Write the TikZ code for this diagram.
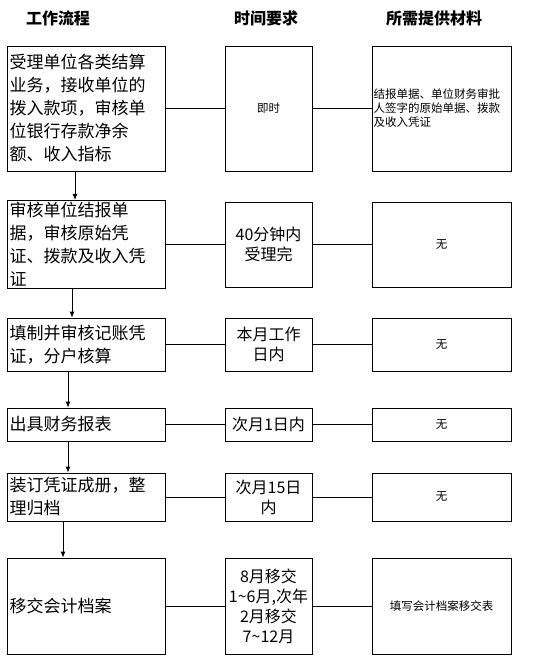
\documentclass[tikz,border=0pt]{standalone}
\usepackage{fontspec}
\newfontfamily\cjk{Noto Sans CJK SC}
\usetikzlibrary{arrows.meta}

\begin{document}
\begin{tikzpicture}[x=1pt,y=-1pt]
    % Define the styles for the three columns
    \tikzstyle{headtext}=[font=\cjk\bfseries\fontsize{16}{18}\selectfont];
    \tikzstyle{stepbox}=[draw, line width=0.8pt, minimum width=158pt, text width=153pt, inner sep=2pt, align=left, font=\cjk\fontsize{17}{23}\selectfont];
    \tikzstyle{timebox}=[draw, line width=0.8pt, minimum width=87pt, text width=84pt, inner sep=1.5pt, align=center, font=\cjk\fontsize{16}{20}\selectfont];
    \tikzstyle{needbox}=[draw, line width=0.8pt, minimum width=139pt, text width=136pt, inner sep=1.5pt, align=center, font=\cjk\fontsize{11.5}{14}\selectfont];
    \tikzstyle{link}=[line width=0.8pt];
    \tikzstyle{flow}=[line width=0.8pt, -{Latex[length=6pt,width=5pt]}];

    \useasboundingbox (0,0) rectangle (550,656);

    % Column heads
    \node[headtext] (h1) at (58,18) {工作流程};
    \node[headtext] (h2) at (266,18) {时间要求};
    \node[headtext] (h3) at (434,18) {所需提供材料};

    % Work flow (left column)
    \node[stepbox, minimum height=125pt] (s1) at (86,108.5) {受理单位各类结算\\业务，接收单位的\\拨入款项，审核单\\位银行存款净余\\额、收入指标};
    \node[stepbox, minimum height=85pt] (s2) at (86,244.5) {审核单位结报单\\据，审核原始凭\\证、拨款及收入凭\\证};
    \node[stepbox, minimum height=53pt] (s3) at (86,344.5) {填制并审核记账凭\\证，分户核算};
    \node[stepbox, minimum height=33pt] (s4) at (86,424.5) {出具财务报表};
    \node[stepbox, minimum height=48pt] (s5) at (86,497) {装订凭证成册，整\\理归档};
    \node[stepbox, minimum height=96pt] (s6) at (86,606) {移交会计档案};

    % Time limits (middle column)
    \node[timebox, minimum height=125pt, font=\cjk\fontsize{11.5}{14}\selectfont] (t1) at (268.5,108.5) {即时};
    \node[timebox, minimum height=85pt] (t2) at (268.5,244.5) {40分钟内\\受理完};
    \node[timebox, minimum height=53pt] (t3) at (268.5,344.5) {本月工作\\日内};
    \node[timebox, minimum height=33pt] (t4) at (268.5,424.5) {次月1日内};
    \node[timebox, minimum height=48pt] (t5) at (268.5,497) {次月15日\\内};
    \node[timebox, minimum height=96pt] (t6) at (268.5,606) {8月移交\\1\textasciitilde 6月,次年\\2月移交\\7\textasciitilde 12月};

    % Materials (right column)
    \node[needbox, minimum height=125pt, align=left] (m1) at (441.5,108.5) {结报单据、单位财务审批\\人签字的原始单据、拨款\\及收入凭证};
    \node[needbox, minimum height=85pt] (m2) at (441.5,244.5) {无};
    \node[needbox, minimum height=53pt] (m3) at (441.5,344.5) {无};
    \node[needbox, minimum height=33pt] (m4) at (441.5,424.5) {无};
    \node[needbox, minimum height=48pt] (m5) at (441.5,497) {无};
    \node[needbox, minimum height=96pt] (m6) at (441.5,606) {填写会计档案移交表};

    % Horizontal links between the columns
    \foreach \i in {1,...,6} {
        \draw[link] (s\i) -- (t\i);
        \draw[link] (t\i) -- (m\i);
    }

    % Arrows down the work flow
    \draw[flow] ([xshift=-11pt]s1.south) -- ([xshift=-11pt]s2.north);
    \draw[flow] ([xshift=-14pt]s2.south) -- ([xshift=-14pt]s3.north);
    \draw[flow] ([xshift=-18pt]s3.south) -- ([xshift=-18pt]s4.north);
    \draw[flow] ([xshift=-18pt]s4.south) -- ([xshift=-18pt]s5.north);
    \draw[flow] ([xshift=-23pt]s5.south) -- ([xshift=-23pt]s6.north);
\end{tikzpicture}
\end{document}
